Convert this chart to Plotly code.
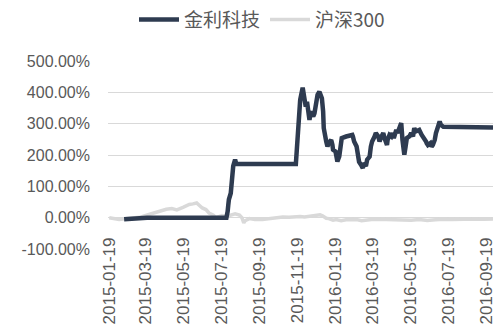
import plotly.graph_objects as go

# 金利科技 cumulative return (%)
jl_dates = [
    "2015-02-12", "2015-03-08", "2015-03-21", "2015-07-27", "2015-07-28", "2015-07-29",
    "2015-07-30", "2015-07-31", "2015-08-03", "2015-08-04", "2015-08-05", "2015-08-06",
    "2015-08-07", "2015-08-10", "2015-08-11", "2015-08-12", "2015-11-16", "2015-11-18",
    "2015-11-20", "2015-11-23", "2015-11-27", "2015-11-30", "2015-12-02", "2015-12-04",
    "2015-12-08", "2015-12-10", "2015-12-14", "2015-12-16", "2015-12-18", "2015-12-21",
    "2015-12-24", "2015-12-28", "2015-12-30", "2015-12-31", "2016-01-04", "2016-01-06",
    "2016-01-08", "2016-01-12", "2016-01-14", "2016-01-15", "2016-01-19", "2016-01-22",
    "2016-01-25", "2016-01-28", "2016-01-29", "2016-02-05", "2016-02-15", "2016-02-16",
    "2016-02-18", "2016-02-22", "2016-02-24", "2016-02-26", "2016-02-29", "2016-03-03",
    "2016-03-04", "2016-03-08", "2016-03-10", "2016-03-14", "2016-03-16", "2016-03-18",
    "2016-03-22", "2016-03-24", "2016-03-28", "2016-03-30", "2016-04-01", "2016-04-05",
    "2016-04-07", "2016-04-11", "2016-04-12", "2016-04-15", "2016-04-18", "2016-04-20",
    "2016-04-22", "2016-04-26", "2016-04-28", "2016-05-03", "2016-05-04", "2016-05-06",
    "2016-05-09", "2016-05-11", "2016-05-13", "2016-05-17", "2016-05-20", "2016-05-23",
    "2016-05-25", "2016-05-27", "2016-05-31", "2016-06-02", "2016-06-06", "2016-06-08",
    "2016-06-13", "2016-06-14", "2016-06-16", "2016-06-20", "2016-06-22", "2016-06-24",
    "2016-06-27", "2016-06-29", "2016-07-01", "2016-07-05", "2016-07-07", "2016-07-11",
    "2016-09-29",
]
jl_values = [
    -5, -4, 0, 0, 8, 20,
    40, 58, 78, 100, 121, 143,
    165, 185, 178, 171, 171, 243,
    328, 376, 415, 370, 354, 370,
    312, 339, 323, 333, 360, 392,
    402, 381, 339, 286, 243, 227,
    238, 248, 232, 217, 211, 179,
    195, 227, 254, 259, 264, 259,
    243, 227, 206, 178, 169, 158,
    174, 165, 185, 195, 227, 243,
    259, 270, 259, 243, 254, 270,
    254, 232, 248, 264, 259, 270,
    254, 280, 270, 296, 302, 248,
    201, 227, 254, 259, 270, 259,
    286, 275, 280, 280, 264, 259,
    243, 238, 232, 238, 227, 232,
    248, 270, 280, 307, 296, 290,
    288,
]

# 沪深300 cumulative return (%)
hs_dates = [
    "2015-01-19", "2015-02-04", "2015-02-17", "2015-03-09", "2015-03-24", "2015-04-09",
    "2015-04-21", "2015-04-30", "2015-05-08", "2015-05-18", "2015-05-28", "2015-06-03",
    "2015-06-09", "2015-06-18", "2015-06-24", "2015-06-29", "2015-07-06", "2015-07-10",
    "2015-07-15", "2015-07-20", "2015-07-27", "2015-08-04", "2015-08-10", "2015-08-17",
    "2015-08-21", "2015-08-24", "2015-08-26", "2015-09-02", "2015-09-11", "2015-09-23",
    "2015-10-08", "2015-10-15", "2015-10-26", "2015-11-05", "2015-11-13", "2015-11-23",
    "2015-11-30", "2015-12-08", "2015-12-16", "2015-12-21", "2015-12-25", "2015-12-29",
    "2016-01-04", "2016-01-08", "2016-01-15", "2016-01-20", "2016-01-28", "2016-02-05",
    "2016-02-15", "2016-02-22", "2016-03-01", "2016-03-09", "2016-03-17", "2016-03-28",
    "2016-04-07", "2016-04-19", "2016-04-28", "2016-05-09", "2016-05-20", "2016-06-02",
    "2016-06-15", "2016-06-28", "2016-07-11", "2016-07-25", "2016-08-05", "2016-08-18",
    "2016-09-01", "2016-09-14", "2016-09-29",
]
hs_values = [
    0, -6, -3, 1, 10, 20,
    27, 29, 25, 33, 42, 44,
    47, 31, 26, 15, 8, 0,
    5, 7, 4, 10, 12, 8,
    0, -17, -10, -3, -6, -6,
    -3, 0, 2, 1, 3, 4,
    2, 4, 7, 10, 9, 6,
    -2, -3, -8, -6, -10, -7,
    -8, -6, -10, -7, -6, -5,
    -6, -5, -7, -9, -8, -6,
    -9, -7, -5, -6, -5, -3,
    -4, -5, -4,
]

x_ticks = ["2015-01-19", "2015-03-19", "2015-05-19", "2015-07-19", "2015-09-19", "2015-11-19",
           "2016-01-19", "2016-03-19", "2016-05-19", "2016-07-19", "2016-09-19"]
y_ticks = [-100, 0, 100, 200, 300, 400, 500]
y_labels = ["-100.00%", "0.00%", "100.00%", "200.00%", "300.00%", "400.00%", "500.00%"]

fig = go.Figure()
fig.add_trace(go.Scatter(x=hs_dates, y=hs_values, mode="lines", name="沪深300",
                         line=dict(color="#D9D9D9", width=3.5)))
fig.add_trace(go.Scatter(x=jl_dates, y=jl_values, mode="lines", name="金利科技",
                         line=dict(color="#2E3B50", width=4.5)))

tick_font = dict(family="Liberation Sans, Arial, sans-serif", size=16, color="#595959")

fig.update_layout(
    width=501, height=324,
    margin=dict(l=108, r=8, t=61, b=75, autoexpand=False),
    paper_bgcolor="white", plot_bgcolor="white",
    showlegend=True,
    legend=dict(orientation="h", x=0.40, xanchor="center", y=1.22, yanchor="middle",
                traceorder="reversed",
                font=dict(family="Noto Sans CJK SC", size=19, color="#595959"),
                itemwidth=40),
    xaxis=dict(type="date", range=["2015-01-17", "2016-09-29"],
               tickvals=x_ticks, ticktext=x_ticks, tickangle=-90,
               tickfont=dict(family="Liberation Sans, Arial, sans-serif", size=17, color="#595959"),
               showgrid=False, zeroline=False, showline=False,
               ticks="outside", ticklen=12, tickcolor="rgba(0,0,0,0)",
               anchor="free", position=1/6, automargin=False),
    yaxis=dict(range=[-100, 500], tickvals=y_ticks, ticktext=y_labels,
               tickfont=tick_font, showgrid=True, gridcolor="#D9D9D9", gridwidth=1,
               zeroline=False, showline=False, ticks="", ticklabelstandoff=17,
               automargin=False),
)

fig.write_html("out.html")
